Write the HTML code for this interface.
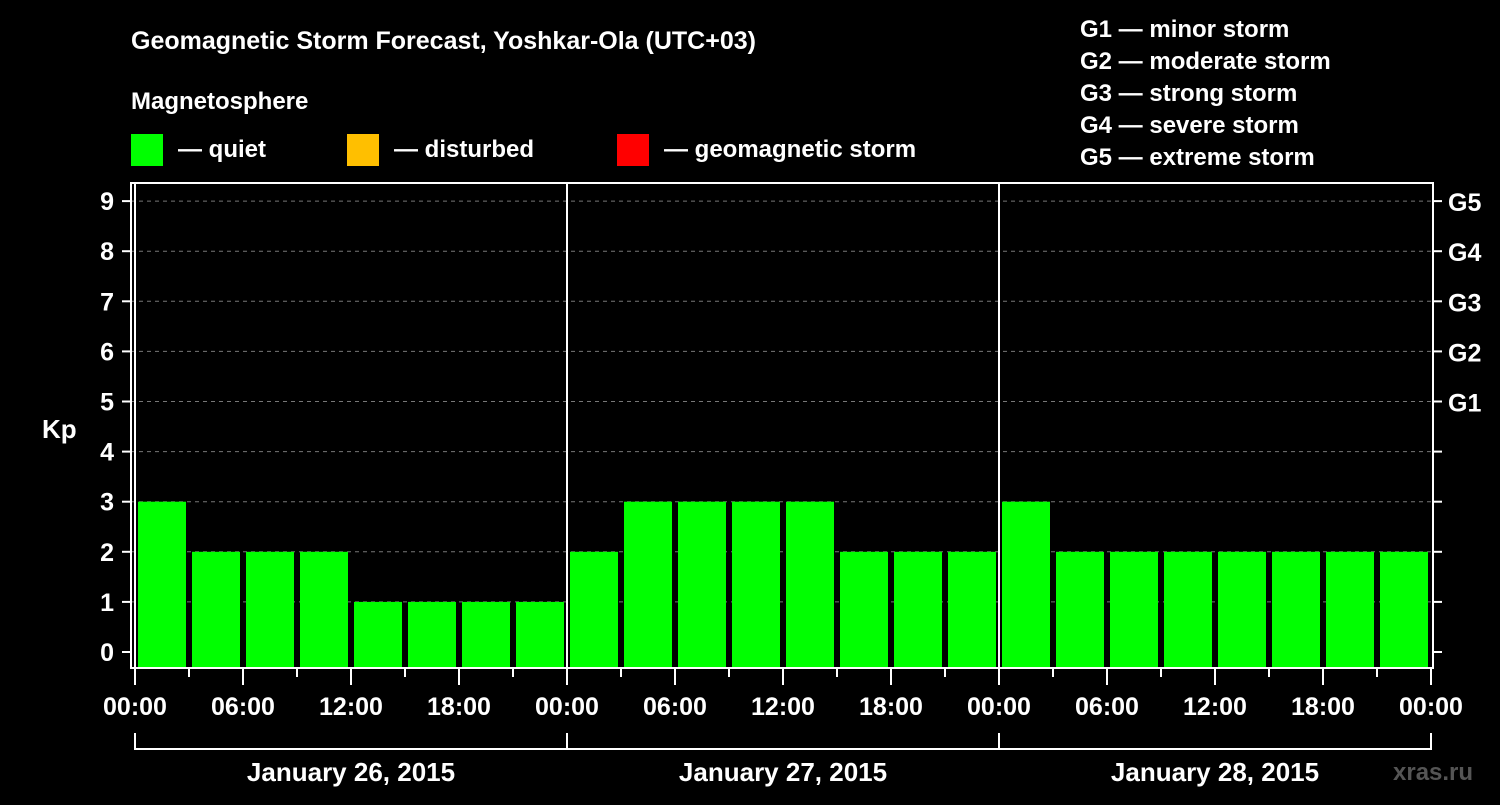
<!DOCTYPE html>
<html><head><meta charset="utf-8"><style>
body{margin:0;background:#000;width:1500px;height:800px;overflow:hidden}
svg{font-family:"Liberation Sans",Arial,sans-serif;font-weight:bold;fill:#fff}
</style></head><body>
<svg id="c" width="1500" height="800" xmlns="http://www.w3.org/2000/svg">
<text x="131" y="49" font-size="25">Geomagnetic Storm Forecast, Yoshkar-Ola (UTC+03)</text>
<text x="131" y="109" font-size="24">Magnetosphere</text>
<rect x="131" y="134" width="32" height="32" fill="#00ff00"/>
<text x="178" y="157" font-size="24">— quiet</text>
<rect x="347" y="134" width="32" height="32" fill="#ffbf00"/>
<text x="394" y="157" font-size="24">— disturbed</text>
<rect x="617" y="134" width="32" height="32" fill="#ff0000"/>
<text x="664" y="157" font-size="24">— geomagnetic storm</text>
<g font-size="24">
<text x="1080" y="37">G1 — minor storm</text>
<text x="1080" y="69">G2 — moderate storm</text>
<text x="1080" y="101">G3 — strong storm</text>
<text x="1080" y="133">G4 — severe storm</text>
<text x="1080" y="165">G5 — extreme storm</text>
</g>
<text x="42" y="438" font-size="26">Kp</text>
<text x="1393" y="780" font-size="24" fill="#555" style="fill:#555">xras.ru</text>
<g id="grid"></g><g id="bars"></g><g id="axes"></g>
</svg>
<script>
const dayLabels=["January 26, 2015","January 27, 2015","January 28, 2015"];
const kpValues=[3,2,2,2,1,1,1,1, 2,3,3,3,3,2,2,2, 3,2,2,2,2,2,2,2];
const kpTicks=[0,1,2,3,4,5,6,7,8,9];
const gLabels=[[5,"G1"],[6,"G2"],[7,"G3"],[8,"G4"],[9,"G5"]];
const hourLabels=["00:00","06:00","12:00","18:00"];
const NS="http://www.w3.org/2000/svg";
const L=131,R=1433,T=183,B=668,X0=135,SLOT=54;
const y=v=>652-v*50.1;
const x=h=>X0+h*18; // h in hours from start
function mk(tag,attrs,parent,txt){const e=document.createElementNS(NS,tag);for(const k in attrs)e.setAttribute(k,attrs[k]);if(txt!=null)e.textContent=txt;document.getElementById(parent).appendChild(e);return e;}
kpTicks.forEach(v=>{
 if(v>0){const g=mk('line',{x1:L,x2:R,y1:y(v),y2:y(v),stroke:'#777','stroke-dasharray':'4,4','stroke-width':1},'grid');
 
 }
 const t=mk('text',{x:114,y:y(v)+9,'font-size':25,'text-anchor':'end'},'axes',v);
 
 
 mk('line',{x1:L-9,x2:L,y1:y(v),y2:y(v),stroke:'#fff','stroke-width':2},'axes');
 mk('line',{x1:R,x2:R+9,y1:y(v),y2:y(v),stroke:'#fff','stroke-width':2},'axes');
});
gLabels.forEach(g=>{const t=mk('text',{x:1448,y:y(g[0])+10,'font-size':25},'axes',g[1]);
 
 });
kpValues.forEach((v,i)=>{
 const c=v>=5?'#ff0000':(v>=4?'#ffbf00':'#00ff00');
 const r=mk('rect',{x:X0+i*SLOT+3,y:y(v),width:48,height:B-y(v),fill:c},'bars');
 
 
});
mk('rect',{x:L,y:T,width:R-L,height:B-T,fill:'none',stroke:'#fff','stroke-width':2},'axes');
dayLabels.forEach((d,i)=>{
 const xs=x(i*24),xe=x((i+1)*24);
 mk('line',{x1:xs,x2:xs,y1:T,y2:B,stroke:'#fff','stroke-width':2},'axes');
 mk('polyline',{points:`${xs},733 ${xs},749 ${xe},749 ${xe},733`,fill:'none',stroke:'#fff','stroke-width':2},'axes');
 const t=mk('text',{x:(xs+xe)/2,y:781,'font-size':26,'text-anchor':'middle'},'axes',d);
 
 
});
for(let h=0;h<=72;h+=3){
 const major=h%6===0;
 mk('line',{x1:x(h),x2:x(h),y1:B,y2:B+(major?17:9),stroke:'#fff','stroke-width':2},'axes');
 if(major){const t=mk('text',{x:x(h),y:715,'font-size':25,'text-anchor':'middle'},'axes',hourLabels[(h%24)/6]);
 
 }
}
</script>
</body></html>
